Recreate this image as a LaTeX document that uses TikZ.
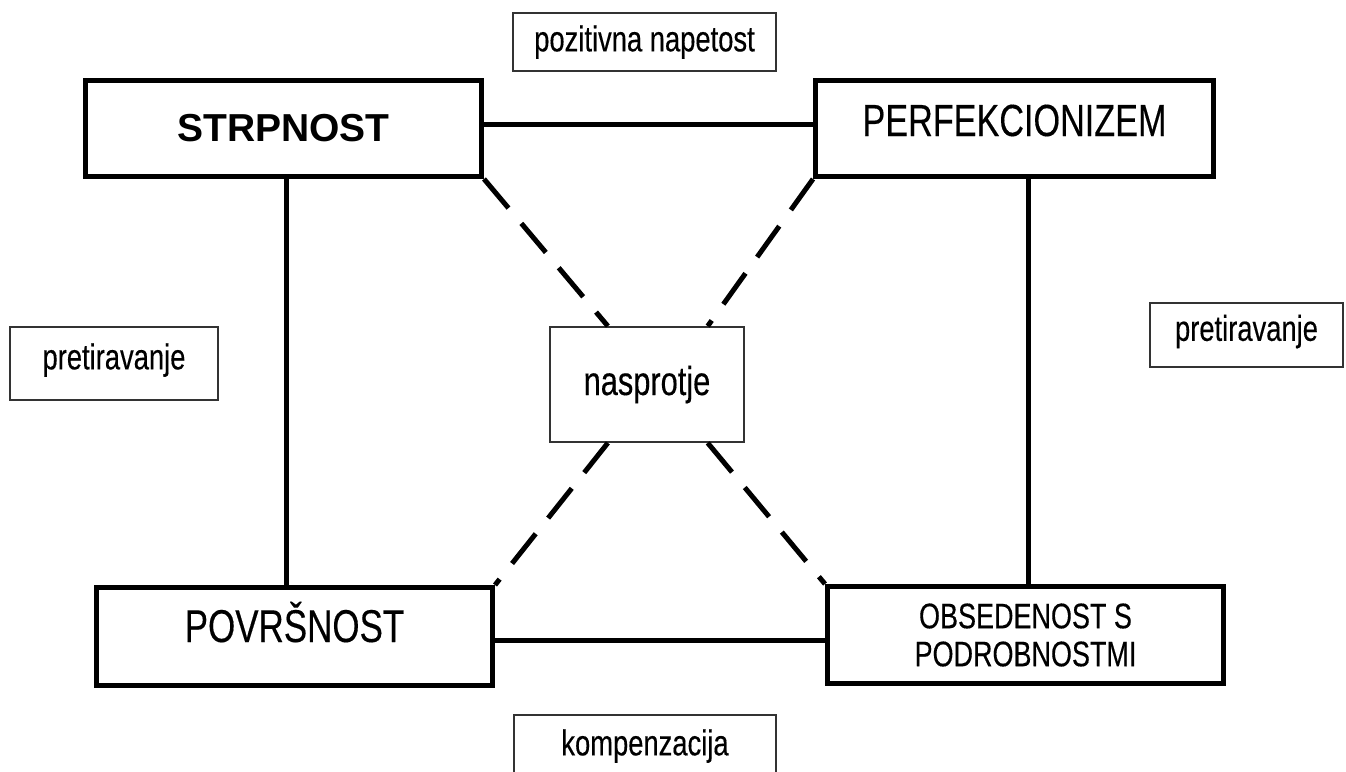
\documentclass[tikz,border=0pt]{standalone}
\usepackage{fontspec}
\setmainfont{Liberation Sans}
\newfontfamily\narrowfont[FakeStretch=0.76,FakeBold=0.3]{Liberation Sans}
\usetikzlibrary{calc}
\begin{document}
\begin{tikzpicture}[x=1pt,y=-1pt,
  bigbox/.style={draw=black,line width=5pt,inner sep=0pt},
  smallbox/.style={draw=black!80,line width=1.8pt,inner sep=0pt,
    font=\narrowfont\fontsize{36}{42}\selectfont,text height=18.7pt,text depth=0pt},
  link/.style={line width=5pt},
  dlink/.style={line width=5pt,dash pattern=on 38pt off 20pt}]
\clip (0,0) rectangle (1346,771);
\useasboundingbox (0,0) rectangle (1346,771);

\node[bigbox,minimum width=396pt,minimum height=96pt,
  font=\bfseries\fontsize{39}{44}\selectfont] (strp) at (283.5,128.5) {STRPNOST};
\node[bigbox,minimum width=398pt,minimum height=96pt,
  font=\narrowfont\fontsize{45}{50}\selectfont,text height=32.4pt,text depth=17.4pt]
  (perf) at (1014.5,128.5) {PERFEKCIONIZEM};
\node[bigbox,minimum width=396pt,minimum height=98pt,
  font=\narrowfont\fontsize{46}{50}\selectfont,text height=33pt,text depth=22pt]
  (povr) at (294.5,636.5) {POVRŠNOST};
\node[bigbox,minimum width=396pt,minimum height=97pt,align=center,
  font=\narrowfont\fontsize{35.5}{38}\selectfont]
  (obs) at (1025.5,635) {OBSEDENOST S\\PODROBNOSTMI};

\node[smallbox,minimum width=263pt,minimum height=58pt] (poz) at (644.5,42) {pozitivna napetost};
\node[smallbox,minimum width=262pt,minimum height=62pt] (komp) at (645,746) {kompenzacija};
\node[smallbox,minimum width=208pt,minimum height=73pt,text depth=7pt] (pretl) at (114,363.5) {pretiravanje};
\node[smallbox,minimum width=193pt,minimum height=64pt,text depth=7pt] (pretr) at (1246.5,335) {pretiravanje};
\node[smallbox,minimum width=194pt,minimum height=115pt,
  font=\narrowfont\fontsize{40.5}{46}\selectfont,text height=21pt]
  (nas) at (647,384.5) {nasprotje};

\coordinate (lv) at (286,0);
\coordinate (rv) at (1028,0);
\coordinate (ht) at (0,124);
\coordinate (hb) at (0,640);

\draw[link] (strp.east |- ht) -- (perf.west |- ht);
\draw[link] (strp.south -| lv) -- (povr.north -| lv);
\draw[link] (perf.south -| rv) -- (obs.north -| rv);
\draw[link] (povr.east |- hb) -- (obs.west |- hb);

\draw[dlink] (strp.south east) -- ($(nas.north west)!0.3!(nas.north east)$);
\draw[dlink] (perf.south west) -- ($(nas.north west)!0.81!(nas.north east)$);
\draw[dlink] ($(nas.south west)!0.3!(nas.south east)$) -- (povr.north east);
\draw[dlink] ($(nas.south west)!0.81!(nas.south east)$) -- (obs.north west);
\end{tikzpicture}
\end{document}
